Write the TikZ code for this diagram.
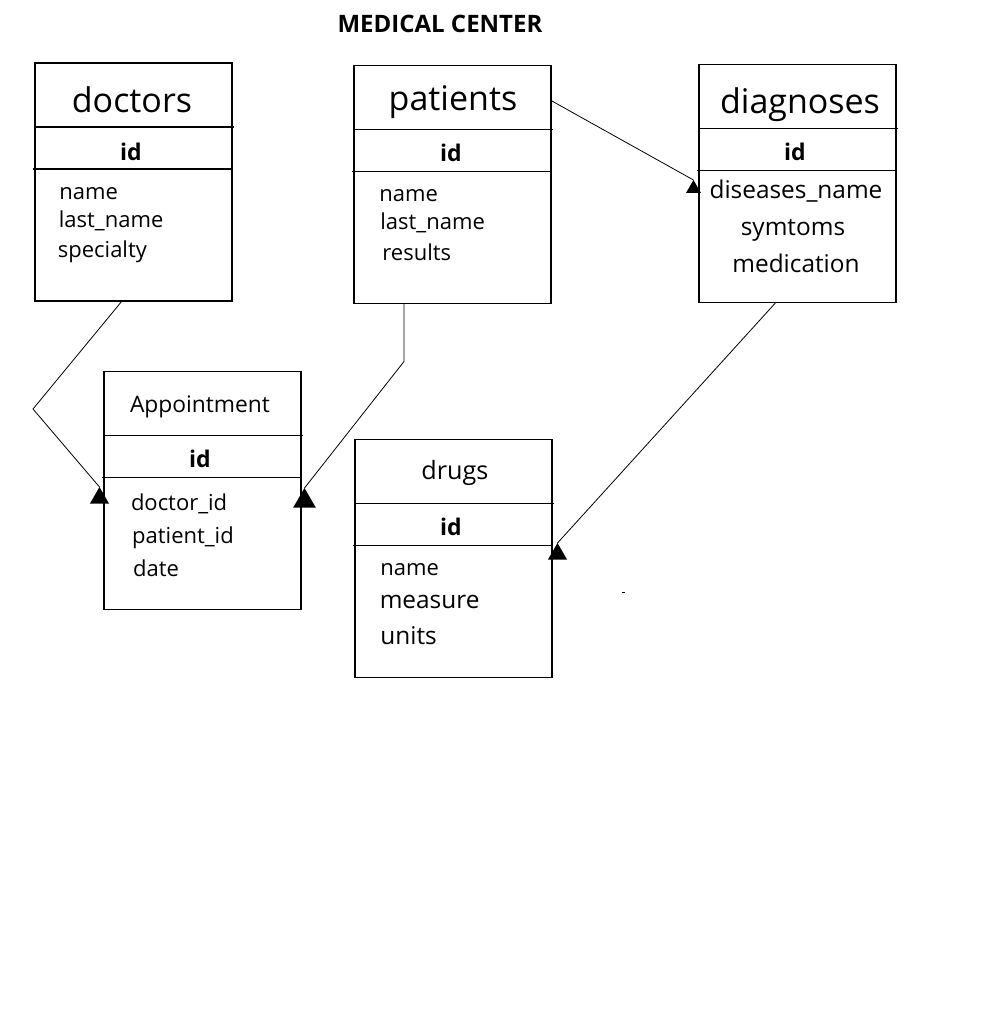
\documentclass[tikz,border=0pt]{standalone}
\usepackage{fontspec}
\setmainfont{Open Sans}
\usetikzlibrary{shapes.geometric}

\begin{document}
\begin{tikzpicture}[
		x=0.5pt, y=-0.5pt,
		entity/.style={draw, line width=0.6pt, anchor=north west, minimum width=98.5pt, minimum height=119pt, inner sep=0pt, outer sep=0pt},
		tname/.style={anchor=base, inner sep=0pt, font=\fontsize{17}{20}\selectfont},
		pkey/.style={anchor=base, inner sep=0pt, font=\fontsize{11.5}{13}\selectfont\bfseries},
		field/.style={anchor=base west, inner sep=0pt, font=\fontsize{11}{13}\selectfont},
		bigfield/.style={font=\fontsize{12.2}{14}\selectfont},
		headtri/.style={regular polygon, regular polygon sides=3, fill=black, inner sep=0pt, outer sep=0pt, minimum size=#1, anchor=corner 1},
		link/.style={line width=0.4pt},
	]
	\useasboundingbox (0,0) rectangle (998,1025);

	\node (title) [anchor=base, inner sep=0pt, font=\fontsize{12}{14}\selectfont\bfseries] at (440,32) {MEDICAL CENTER};

	% tables
	\node (doctors) [entity] at (35,63) {};
	\node (patients) [entity] at (354,65.5) {};
	\node (diagnoses) [entity] at (699,64.3) {};
	\node (appt) [entity] at (104,371.3) {};
	\node (drugs) [entity] at (355,439.7) {};

	\foreach \t in {doctors,patients,diagnoses,appt,drugs} {
		\draw[line width=0.6pt] ([yshift=-32pt]\t.north west) -- ([xshift=1pt,yshift=-32pt]\t.north east);
		\draw[line width=0.6pt] ([xshift=-1pt,yshift=-53pt]\t.north west) -- ([yshift=-53pt]\t.north east);
	}

	\node (doctorsname) [tname] at (132,112) {doctors};
	\node (doctorsid) [pkey] at (131,160) {id};
	\node (doctorsf1) [field] at (59,199) {name};
	\node (doctorsf2) [field] at (58.5,227) {last\_name};
	\node (doctorsf3) [field] at (57.5,257) {specialty};

	\node (patientsname) [tname] at (453,110) {patients};
	\node (patientsid) [pkey] at (451,161.5) {id};
	\node (patientsf1) [field] at (379,201) {name};
	\node (patientsf2) [field] at (380,229) {last\_name};
	\node (patientsf3) [field] at (382,260) {results};

	\node (diagnosesname) [tname] at (800,113) {diagnoses};
	\node (diagnosesid) [pkey] at (795,160) {id};
	\node (diagnosesf1) [tname, bigfield] at (796,198) {diseases\_name};
	\node (diagnosesf2) [tname, bigfield] at (793,235) {symtoms};
	\node (diagnosesf3) [tname, bigfield] at (796,272) {medication};

	\node (apptname) [tname, font=\fontsize{11.4}{14}\selectfont] at (200,412.5) {Appointment};
	\node (apptid) [pkey] at (200,467.3) {id};
	\node (apptf1) [field] at (130.6,510) {doctor\_id};
	\node (apptf2) [field] at (131.8,543.3) {patient\_id};
	\node (apptf3) [field] at (132.7,576.7) {date};

	\node (drugsname) [tname, font=\fontsize{12.6}{15}\selectfont] at (455,479) {drugs};
	\node (drugsid) [pkey] at (451,535.7) {id};
	\node (drugsf1) [field] at (380,575) {name};
	\node (drugsf2) [field, bigfield] at (379.4,608.3) {measure};
	\node (drugsf3) [field, bigfield] at (380,644) {units};

	% arrow heads
	\node (h1) [headtri=11pt] at (99.5,487) {};
	\node (h2) [headtri=13pt] at (304.5,488) {};
	\node (h3) [headtri=11pt] at (557.5,543) {};
	\node (h4) [headtri=8.5pt] at (693.5,180) {};

	% links
	\draw[link] ([xshift=43.5pt]doctors.south west) -- (33,409) -- (h1.corner 1);
	\draw[link] ([xshift=25pt]patients.south west) -- ++(0,58) -- (h2.corner 1);
	\draw[link] ([xshift=38.5pt]diagnoses.south west) -- (h3.corner 1);
	\draw[link] ([yshift=-17.5pt]patients.north east) -- (h4.corner 1);

	\draw[line width=0.5pt] (622,592) -- (625,592);
\end{tikzpicture}
\end{document}
